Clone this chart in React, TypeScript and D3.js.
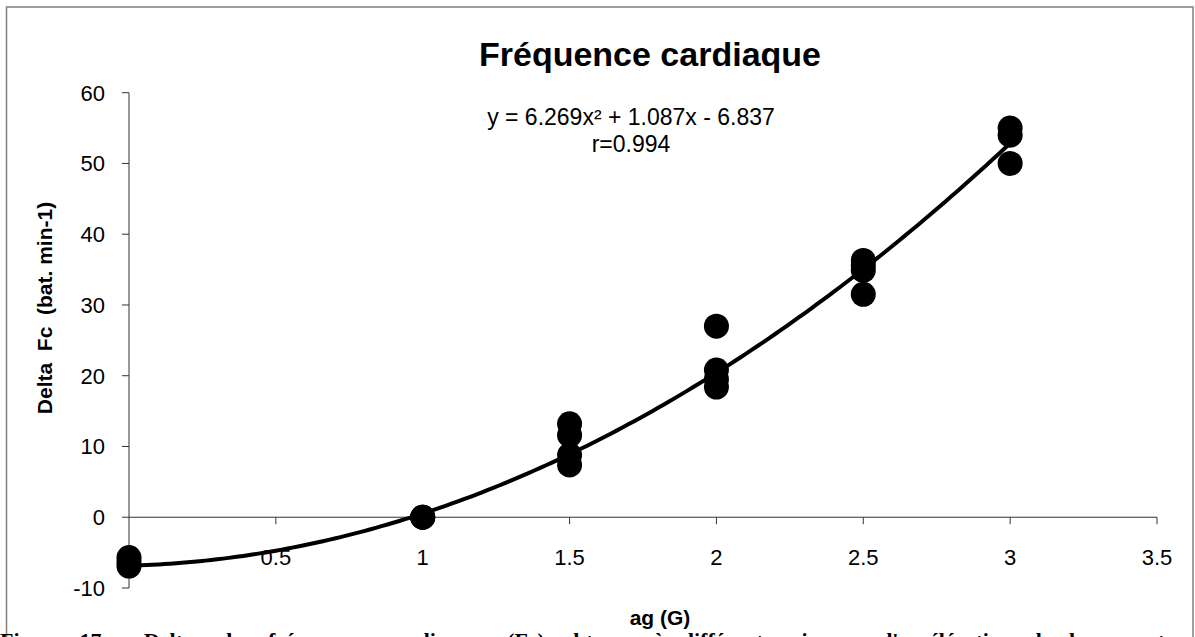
import React from "react";
import * as d3 from "d3";

const xTicks = [0.5, 1, 1.5, 2, 2.5, 3, 3.5];
const yTicks = [-10, 0, 10, 20, 30, 40, 50, 60];
const obsX = [0, 0, 0, 1, 1, 1, 1.5, 1.5, 1.5, 1.5, 2, 2, 2, 2, 2.5, 2.5, 2.5, 2.5, 3, 3, 3];
const obsY = [-5.7, -6.3, -6.9, 0, 0, 0, 13.2, 11.6, 8.8, 7.4, 27, 20.8, 19.5, 18.4, 36.3, 35.6, 34.9, 31.5, 55, 54, 50];
const fitCoef = [6.269, 1.087, -6.837];
const title = "Fréquence cardiaque";
const eqText = "y = 6.269x² + 1.087x - 6.837";
const rText = "r=0.994";
const yLabel = "Delta  Fc  (bat. min-1)";
const xLabel = "ag (G)";
const caption = "Figure 17 : Deltas des fréquences cardiaques (Fc) obtenus à différents niveaux d'accélération de la pesanteur";

export default function App() {
  const W = 1195, H = 637;
  const x = d3.scaleLinear().domain([0, 3.5]).range([129, 1157]);
  const y = d3.scaleLinear().domain([-10, 60]).range([588, 92.7]);
  const fitXs = d3.range(0, 3.0001, 0.02);
  const line = d3.line<number>()
    .x((v) => x(v))
    .y((v) => y(fitCoef[0] * v * v + fitCoef[1] * v + fitCoef[2]))
    .curve(d3.curveMonotoneX);
  const font = "Arial, 'Liberation Sans', sans-serif";
  const axisColor = "#333";
  return (
    <svg width={W} height={H} style={{ position: "absolute", left: 0, top: 0, background: "#fff" }}>
      <rect x={6.5} y={7} width={1186.5} height={720} fill="#fff" stroke="#808080" strokeWidth={1.5} />
      <text x={650} y={66} textAnchor="middle" fontFamily={font} fontWeight="bold" fontSize={34}>{title}</text>
      {/* y axis */}
      <line x1={x(0)} x2={x(0)} y1={y(60)} y2={y(-10)} stroke={axisColor} strokeWidth={1} />
      {yTicks.map((t) => (
        <g key={"y" + t}>
          <line x1={x(0) - 7} x2={x(0)} y1={y(t)} y2={y(t)} stroke={axisColor} strokeWidth={1} />
          <text x={105} y={y(t) + 8} textAnchor="end" fontFamily={font} fontSize={22}>{t}</text>
        </g>
      ))}
      {/* x axis */}
      <line x1={x(0)} x2={x(3.5)} y1={y(0)} y2={y(0)} stroke={axisColor} strokeWidth={1} />
      {xTicks.map((t) => (
        <g key={"x" + t}>
          <line x1={x(t)} x2={x(t)} y1={y(0)} y2={y(0) + 7} stroke={axisColor} strokeWidth={1} />
          <text x={x(t)} y={565} textAnchor="middle" fontFamily={font} fontSize={22}>{t}</text>
        </g>
      ))}
      <path d={line(fitXs) || ""} fill="none" stroke="#000" strokeWidth={4} />
      {obsX.map((vx, i) => (
        <circle key={"p" + i} cx={x(vx)} cy={y(obsY[i])} r={12.5} fill="#000" />
      ))}
      <text x={631} y={125} textAnchor="middle" fontFamily={font} fontSize={23}>{eqText}</text>
      <text x={631} y={152} textAnchor="middle" fontFamily={font} fontSize={23}>{rText}</text>
      <text transform={`translate(52,${308}) rotate(-90)`} textAnchor="middle" fontFamily={font} fontWeight="bold" fontSize={21} style={{ whiteSpace: "pre" }}>{yLabel}</text>
      <text x={660} y={625} textAnchor="middle" fontFamily={font} fontWeight="bold" fontSize={21}>{xLabel}</text>
      <text x={0} y={648} fontFamily="'Liberation Serif', 'Times New Roman', serif" fontWeight="bold" fontSize={22} wordSpacing={12}>{caption}</text>
    </svg>
  );
}
